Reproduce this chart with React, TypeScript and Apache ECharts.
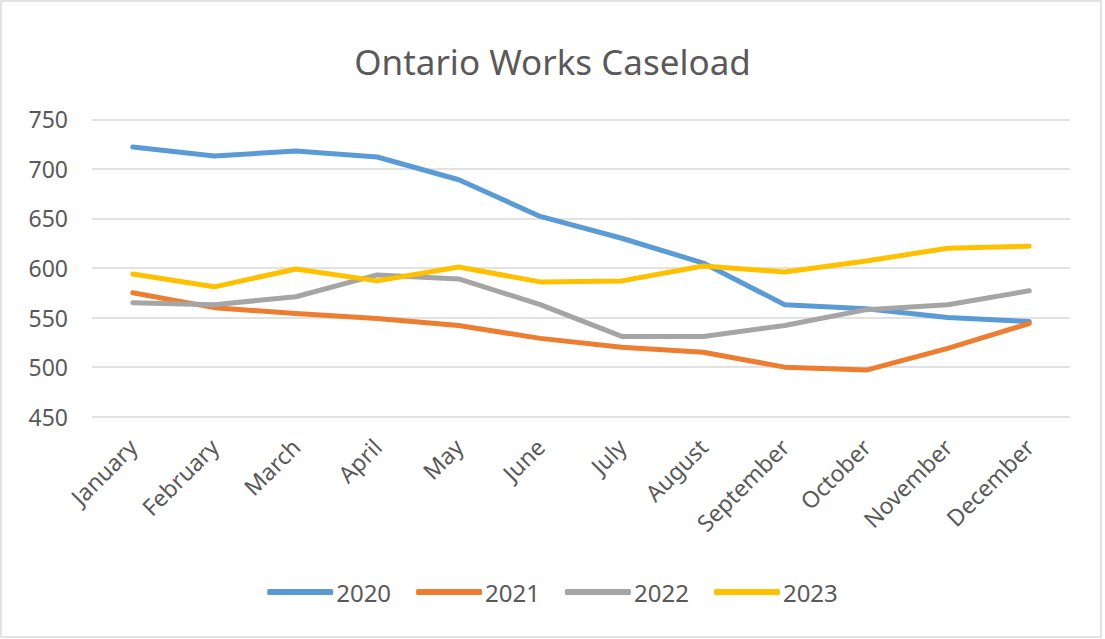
import React, { useEffect, useRef } from "react";
import * as echarts from "echarts";

const months = [
  "January", "February", "March", "April", "May", "June",
  "July", "August", "September", "October", "November", "December",
];
const s2020 = [722, 713, 718, 712, 689, 652, 630, 605, 563, 559, 550, 546];
const s2021 = [575, 560, 554, 549, 542, 529, 520, 515, 500, 497, 519, 544];
const s2022 = [565, 563, 571, 593, 589, 563, 531, 531, 542, 558, 563, 577];
const s2023 = [594, 581, 599, 587, 601, 586, 587, 602, 596, 607, 620, 622];
const seriesNames = ["2020", "2021", "2022", "2023"];
const colors = ["#5B9BD5", "#ED7D31", "#A5A5A5", "#FFC000"];

const FONT = "'Noto Sans', 'Open Sans', sans-serif";

export default function App() {
  const ref = useRef<HTMLDivElement>(null);
  useEffect(() => {
    if (!ref.current) return;
    const chart = echarts.init(ref.current, undefined, { renderer: "svg" });
    const data = [s2020, s2021, s2022, s2023];
    chart.setOption({
      animation: false,
      backgroundColor: "#ffffff",
      color: colors,
      textStyle: { fontFamily: FONT },
      title: {
        text: "Ontario Works Caseload",
        left: "center",
        top: 39,
        textStyle: { fontFamily: FONT, fontSize: 35, fontWeight: "normal", color: "#595959" },
      },
      graphic: [
        {
          type: "rect",
          shape: { x: 1, y: 1, width: 1100, height: 636 },
          style: { fill: "none", stroke: "#d9d9d9", lineWidth: 1.5 },
          silent: true,
        },
      ],
      legend: {
        data: seriesNames,
        bottom: 30,
        left: "center",
        icon: "roundRect",
        itemWidth: 66,
        itemHeight: 6,
        itemGap: 25,
        textStyle: { fontFamily: FONT, fontSize: 24, color: "#595959", padding: [0, 0, 0, -2] },
      },
      grid: { left: 92, right: 35, top: 119.3, bottom: 222.3, containLabel: false },
      xAxis: {
        type: "category",
        data: months,
        boundaryGap: true,
        axisLine: { show: false },
        axisTick: { show: false },
        axisLabel: {
          rotate: 45,
          interval: 0,
          margin: 26,
          fontFamily: FONT,
          fontSize: 23,
          color: "#595959",
        },
      },
      yAxis: {
        type: "value",
        min: 450,
        max: 750,
        interval: 50,
        axisLine: { show: false },
        axisTick: { show: false },
        axisLabel: { margin: 24, fontFamily: FONT, fontSize: 23, color: "#595959" },
        splitLine: { lineStyle: { color: "#d9d9d9", width: 1.5 } },
      },
      series: data.map((d, i) => ({
        name: seriesNames[i],
        type: "line",
        data: d,
        symbol: "none",
        smooth: false,
        lineStyle: { width: 5, cap: "round", join: "round", color: colors[i] },
        itemStyle: { color: colors[i] },
      })),
    });
    return () => chart.dispose();
  }, []);
  return (
    <div
      ref={ref}
      style={{ position: "absolute", left: 0, top: 0, width: 1105, height: 639 }}
    />
  );
}
